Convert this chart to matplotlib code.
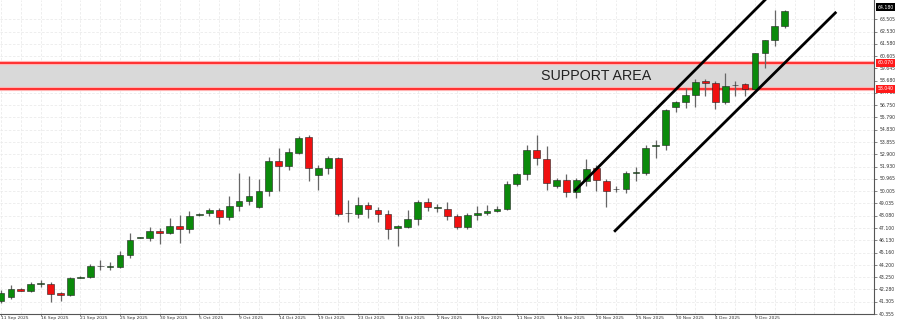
import numpy as np
import matplotlib
matplotlib.use('Agg')
import matplotlib.pyplot as plt
from matplotlib.transforms import blended_transform_factory

# Data OHLC harian (XAGUSD), 11 Sep 2025 - 12 Dec 2025, termasuk bar hari Minggu
opens = [41.37, 41.68, 42.30, 42.20, 42.71, 42.71, 41.99, 41.81, 43.18, 43.23,
         44.16, 44.08, 44.01, 45.00, 46.32, 46.29, 46.89, 46.73, 47.25, 46.99,
         48.12, 48.27, 48.52, 47.96, 48.81, 49.20, 48.73, 49.98, 52.36, 52.00,
         52.96, 54.26, 51.27, 51.79, 52.57, 48.25, 48.21, 48.89, 48.50, 48.21,
         47.07, 47.20, 47.85, 49.12, 48.68, 48.60, 48.03, 47.18, 48.11, 48.29,
         48.42, 48.62, 50.55, 51.32, 53.21, 52.49, 50.44, 50.88, 49.92, 50.80,
         51.79, 50.80, 50.15, 50.20, 51.44, 51.40, 53.58, 53.60, 56.59, 56.98,
         57.55, 58.64, 58.48, 57.03, 58.31, 58.40, 58.01, 60.81, 61.85, 62.94]
highs = [42.22, 42.61, 42.38, 42.84, 43.02, 42.84, 42.07, 43.23, 43.31, 44.27,
         44.56, 44.40, 45.33, 46.73, 46.40, 47.20, 47.12, 47.90, 48.13, 48.45,
         48.25, 48.68, 48.68, 49.61, 51.40, 51.17, 50.96, 52.72, 53.35, 53.35,
         54.36, 54.44, 52.05, 52.78, 52.68, 49.32, 49.51, 49.15, 48.73, 48.55,
         47.38, 48.55, 49.32, 49.46, 48.99, 49.15, 48.21, 48.29, 48.81, 48.89,
         48.81, 50.76, 51.40, 53.66, 54.44, 53.56, 51.07, 51.32, 51.01, 52.49,
         52.05, 50.96, 50.37, 51.58, 51.92, 53.60, 54.00, 56.46, 57.10, 58.07,
         58.79, 58.79, 58.66, 59.26, 58.66, 58.53, 60.87, 61.90, 64.24, 64.24]
lows = [41.21, 41.52, 42.14, 42.07, 42.46, 41.29, 41.37, 41.76, 43.16, 43.19,
        43.78, 43.78, 43.93, 44.79, 46.30, 46.11, 45.88, 46.66, 45.96, 46.73,
        48.08, 48.06, 47.43, 47.74, 48.47, 48.94, 48.68, 49.61, 49.98, 51.66,
        52.88, 50.76, 50.10, 51.32, 48.03, 47.59, 47.90, 47.90, 47.59, 46.21,
        45.70, 47.12, 47.38, 48.42, 48.37, 47.77, 46.99, 46.99, 47.77, 48.11,
        48.37, 48.56, 50.37, 50.88, 52.05, 50.10, 50.23, 49.51, 49.46, 50.37,
        49.98, 48.73, 49.92, 49.85, 50.76, 51.27, 52.62, 53.21, 56.20, 56.51,
        56.59, 57.49, 56.46, 56.85, 57.49, 57.49, 57.96, 59.70, 61.38, 62.81]
closes = [41.99, 42.30, 42.18, 42.71, 42.75, 41.93, 41.81, 43.18, 43.23, 44.14,
          44.12, 44.10, 45.00, 46.14, 46.37, 46.91, 46.73, 47.30, 47.04, 48.03,
          48.18, 48.52, 47.96, 48.81, 49.25, 49.64, 49.98, 52.39, 52.00, 53.04,
          54.20, 51.79, 51.84, 52.57, 48.21, 48.31, 48.89, 48.62, 48.24, 46.99,
          47.25, 47.85, 49.15, 48.73, 48.70, 48.03, 47.18, 48.11, 48.29, 48.42,
          48.62, 50.55, 51.32, 53.21, 52.57, 50.62, 50.88, 49.92, 50.88, 51.74,
          50.88, 50.02, 50.18, 51.40, 51.48, 53.42, 53.62, 56.38, 56.98, 57.55,
          58.58, 58.53, 57.03, 58.22, 58.33, 58.01, 60.81, 61.85, 62.94, 64.18]

# Label tanggal (setiap 4 bar)
date_labels = ['11 Sep 2025', '16 Sep 2025', '21 Sep 2025', '25 Sep 2025', '30 Sep 2025',
               '5 Oct 2025', '9 Oct 2025', '14 Oct 2025', '19 Oct 2025', '23 Oct 2025',
               '28 Oct 2025', '2 Nov 2025', '6 Nov 2025', '11 Nov 2025', '16 Nov 2025',
               '20 Nov 2025', '25 Nov 2025', '30 Nov 2025', '4 Dec 2025', '9 Dec 2025']

# Label harga sumbu kanan
price_labels = ['40.355', '41.305', '42.280', '43.250', '44.200', '45.160', '46.130',
                '47.100', '48.080', '49.035', '50.005', '50.965', '51.930', '52.900',
                '53.855', '54.830', '55.790', '56.750', '57.715', '58.680', '59.645',
                '60.605', '61.580', '62.530', '63.505']

# Area support dan garis channel (indeks bar, harga)
support_low = 58.04
support_high = 60.07
channel_upper_x = [57.9, 80.0]
channel_upper_y = [50.08, 67.35]
channel_lower_x = [61.9, 84.1]
channel_lower_y = [46.89, 64.00]

fig = plt.figure(figsize=(9, 3.22), dpi=100)
ax = fig.add_axes([0.0, 8 / 322, 874 / 900, 314 / 322])

n = len(opens)
x = np.arange(n)
ax.set_xlim(-0.1, 88.0)
ax.set_ylim(40.59, 65.01)

# grid
ax.set_xticks(np.arange(0, 4 * len(date_labels), 4))
ax.set_xticks(np.arange(0, 88, 2), minor=True)
price_vals = [float(s) for s in price_labels]
ax.set_yticks(price_vals)
ax.grid(True, which='both', axis='x', color='#ebebeb', linestyle=(0, (3, 2)), linewidth=0.6)
ax.grid(True, which='major', axis='y', color='#ebebeb', linestyle=(0, (3, 2)), linewidth=0.6)
ax.set_axisbelow(True)

# area support
ax.axhspan(support_low, support_high, color='#d9d9d9', zorder=1)
for lvl in [support_low, support_high]:
    ax.axhline(lvl, color='#ffb3b3', linewidth=3.0, zorder=2)
    ax.axhline(lvl, color='#ff1a1a', linewidth=1.2, zorder=2)
ax.text(60.0, (support_low + support_high) / 2, 'SUPPORT AREA', family='Liberation Sans',
        fontsize=10.3, color='#222222', ha='center', va='center', zorder=3)

# candlestick
w = 0.68
for i in x:
    o, h, l, c = opens[i], highs[i], lows[i], closes[i]
    warna = '#0b8a0b' if c >= o else '#f01010'
    ax.vlines(i, l, h, color='#666666', linewidth=0.9, zorder=4)
    tinggi = max(abs(c - o), 0.04)
    ax.bar(i, tinggi, bottom=min(o, c), width=w, color=warna,
           edgecolor='#222222', linewidth=0.4, zorder=5)

# channel
ax.plot(channel_upper_x, channel_upper_y, color='black', linewidth=2.0, zorder=6)
ax.plot(channel_lower_x, channel_lower_y, color='black', linewidth=2.0, zorder=6)

# spines
for s in ['top', 'left']:
    ax.spines[s].set_visible(False)
ax.spines['right'].set_color('#555555')
ax.spines['bottom'].set_color('#555555')
ax.spines['right'].set_linewidth(0.8)
ax.spines['bottom'].set_linewidth(0.8)

# sumbu x
ax.set_xticklabels(date_labels, fontsize=3.2, ha='left', color='#333333')
ax.tick_params(axis='x', which='major', length=1.2, width=0.5, pad=0.2, color='#555555')
ax.tick_params(axis='x', which='minor', length=0)

# sumbu y (kanan, teks manual)
ax.yaxis.tick_right()
ax.tick_params(axis='y', length=2.5, width=0.5, color='#555555', labelright=False, labelleft=False)
tr = blended_transform_factory(ax.transAxes, ax.transData)
for v, s in zip(price_vals, price_labels):
    ax.text(1.006, v, s, transform=tr, fontsize=3.3, ha='left', va='center',
            color='#333333', clip_on=False)

# label harga support (merah) dan harga terakhir (hitam)
for lvl in [support_low, support_high]:
    ax.text(1.004, lvl, f'{lvl:.3f}', transform=tr, fontsize=3.3, ha='left', va='center',
            color='white', clip_on=False, zorder=10,
            bbox=dict(boxstyle='square,pad=0.3', facecolor='#ff1a1a', edgecolor='none'))
ax.text(1.004, 64.45, f'{closes[-1]:.3f}', transform=tr, fontsize=3.3, ha='left', va='center',
        color='white', clip_on=False, zorder=10,
        bbox=dict(boxstyle='square,pad=0.3', facecolor='black', edgecolor='none'))

plt.savefig('out.png', dpi=100)
